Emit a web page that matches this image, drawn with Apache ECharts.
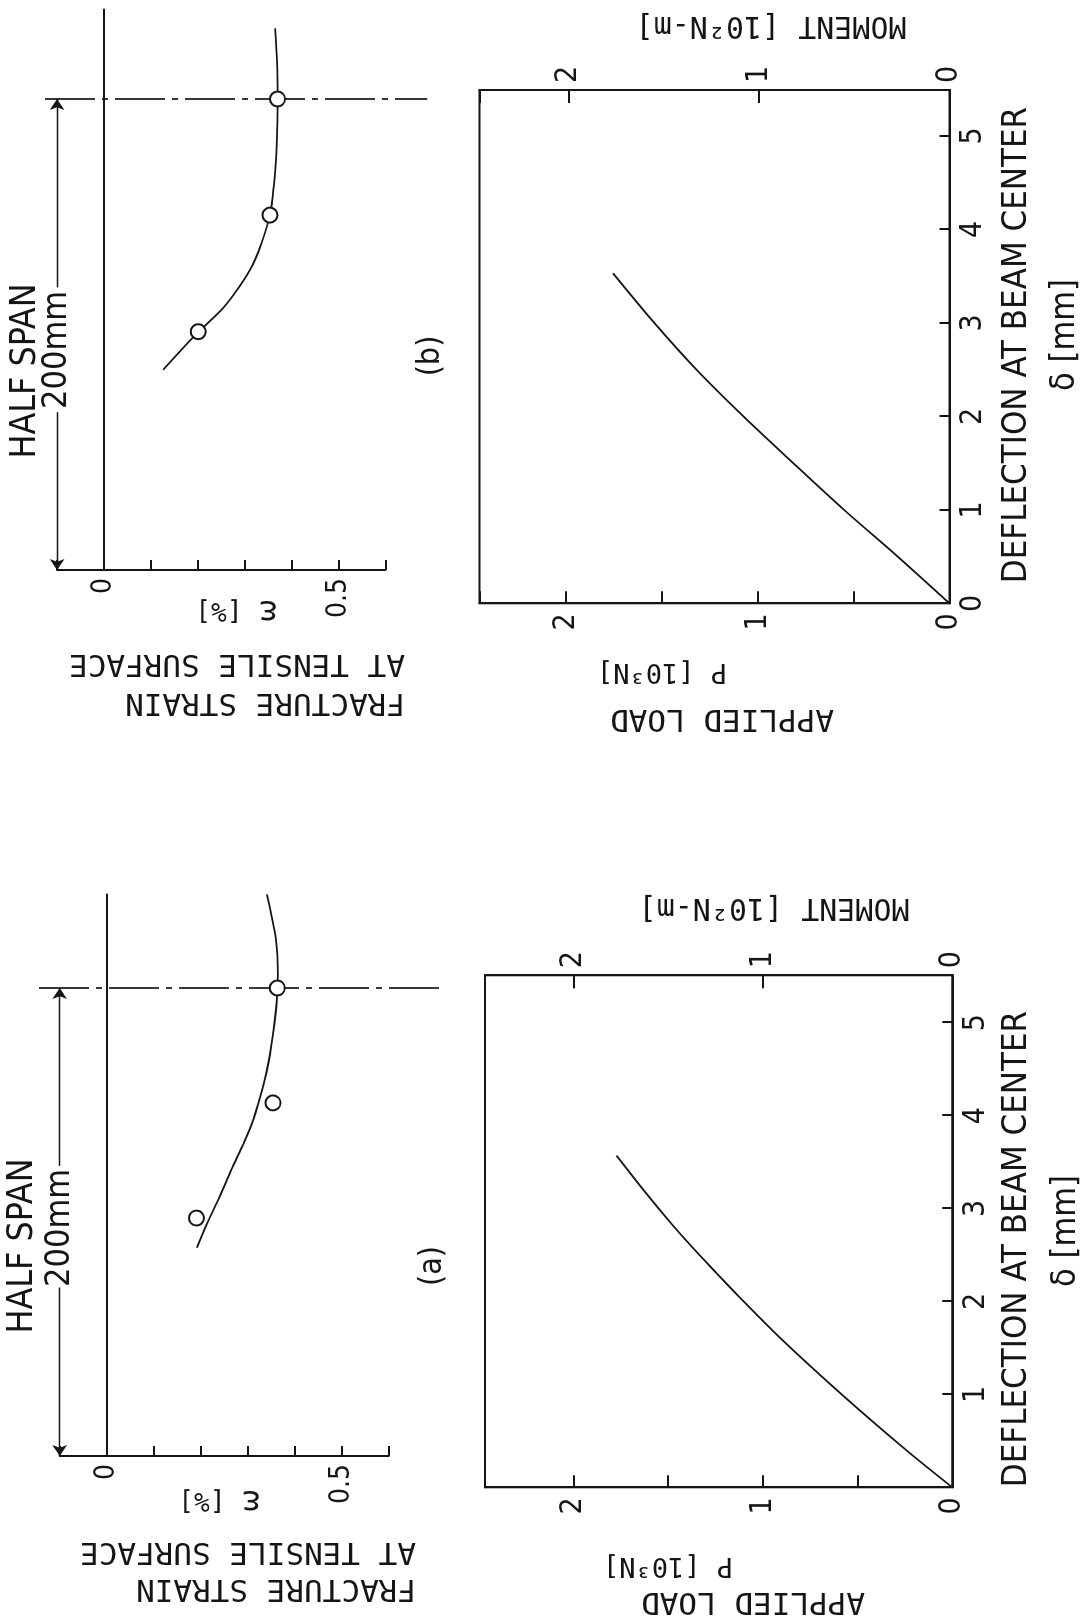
<!DOCTYPE html>
<html>
<head>
<meta charset="utf-8">
<script src="https://cdn.jsdelivr.net/npm/echarts@6/dist/echarts.min.js"></script>
<style>
  html, body { margin: 0; padding: 0; background: #fff; width: 1089px; height: 1623px; overflow: hidden; }
  #chart { position: absolute; left: 0; top: 0; width: 1623px; height: 1089px;
           transform-origin: 0 0; transform: translate(0px, 1623px) rotate(-90deg); }
</style>
</head>
<body>
<div id="chart"></div>
<script>
// ---------------- DATA ----------------
// Lower panels: deflection at beam center (mm) vs applied load P (10^3 N)
const deflA = [0, 0.4, 1.0, 1.6, 2.05, 2.3, 2.6, 2.85, 3.17, 3.57];
const loadA = [0, 0.243, 0.584, 0.905, 1.125, 1.242, 1.38, 1.488, 1.618, 1.772];
const deflB = [0, 0.5, 1.0, 1.5, 2.0, 2.5, 3.0, 3.53];
const loadB = [0, 0.27, 0.55, 0.815, 1.075, 1.32, 1.54, 1.755];

// Upper panels: position from support (mm) vs fracture strain at tensile surface (%)
const posCurveA = [89, 100, 112, 124, 133, 142, 153, 164, 175, 185, 195, 206, 221, 240];
const strainCurveA = [0.192, 0.215, 0.243, 0.269, 0.290, 0.309, 0.326, 0.340, 0.350, 0.357, 0.362, 0.364, 0.360, 0.341];
const posPtsA = [101.7, 150.9, 200];
const strainPtsA = [0.191, 0.354, 0.363];

const posCurveB = [85, 95, 101, 111, 121, 130, 140, 151, 163, 175, 186, 200, 215, 230];
const strainCurveB = [0.126, 0.172, 0.201, 0.253, 0.291, 0.318, 0.338, 0.354, 0.362, 0.367, 0.369, 0.370, 0.369, 0.365];
const posPtsB = [101.2, 150.7, 200];
const strainPtsB = [0.201, 0.354, 0.370];

// Tick labels
const deflTickLabelsA = ['1', '2', '3', '4', '5'];
const deflTickLabelsB = ['0', '1', '2', '3', '4', '5'];
const loadTickLabels = ['0', '1', '2'];
const momentTickLabels = ['0', '1', '2'];
const strainTickLabels = ['0', '0.5'];

// Half-span annotation (mm)
const halfSpan = 200;
const spanArrowGapA = [72, 124];
const spanArrowGapB = [67, 120];
const centerLineStrainA = [-0.144, 0.711];
const centerLineStrainB = [-0.126, 0.689];
const arrowStrain = -0.1;

// ---------------- STYLE ----------------
const ink = '#151515';
const cond = "'DejaVu Sans Condensed','Liberation Sans Narrow','Roboto Condensed','DejaVu Sans',sans-serif";
const mono = "'DejaVu Sans Mono','Liberation Mono',monospace";

function zip(a, b) { return a.map((v, i) => [v, b[i]]); }
function fmtFrom(list) {
  return function (v) {
    const s = String(Math.round(v * 1000) / 1000);
    return list.indexOf(s) >= 0 ? s : '';
  };
}
const axLine = { show: true, onZero: false, lineStyle: { color: ink, width: 2 } };
function tickStyle(len) { return { show: true, inside: true, length: len, lineStyle: { color: ink, width: 2 } }; }
function lab(list, size, margin) {
  return { show: true, formatter: fmtFrom(list), fontSize: size, fontFamily: cond, color: ink, margin: margin, showMaxLabel: true, showMinLabel: true };
}
const noSplit = { show: false };

// grids in the un-rotated (landscape) frame
const grids = [
  { left: 167, top: 59.7, width: 561.6, height: 329 },            // top a
  { left: 135.7, top: 485, width: 512, height: 467.3, show: true, borderColor: ink, borderWidth: 2, backgroundColor: 'rgba(0,0,0,0)' }, // bottom a
  { left: 1053, top: 57.1, width: 560.5, height: 328.3 },         // top b
  { left: 1019.7, top: 479.6, width: 513.3, height: 469.8, show: true, borderColor: ink, borderWidth: 2, backgroundColor: 'rgba(0,0,0,0)' } // bottom b
].map(g => Object.assign({ containLabel: false, outerBoundsMode: 'none' }, g));

const xAxes = [
  { gridIndex: 0, type: 'value', min: 0, max: 240, position: 'top',
    axisLine: { show: true, onZero: true, lineStyle: { color: ink, width: 2 } },
    axisTick: { show: false }, axisLabel: { show: false }, splitLine: noSplit },
  { gridIndex: 1, type: 'value', min: 0, max: 5.51, interval: 1, position: 'bottom',
    axisLine: axLine, axisTick: tickStyle(10), axisLabel: lab(deflTickLabelsA, 30, 9), splitLine: noSplit },
  { gridIndex: 2, type: 'value', min: 0, max: 238, position: 'top',
    axisLine: { show: true, onZero: true, lineStyle: { color: ink, width: 2 } },
    axisTick: { show: false }, axisLabel: { show: false }, splitLine: noSplit },
  { gridIndex: 3, type: 'value', min: 0, max: 5.49, interval: 1, position: 'bottom',
    axisLine: axLine, axisTick: tickStyle(10), axisLabel: lab(deflTickLabelsB, 30, 9), splitLine: noSplit }
];
const yAxes = [
  { gridIndex: 0, type: 'value', min: -0.1, max: 0.6, interval: 0.1, inverse: true, position: 'left',
    axisLine: axLine, axisTick: tickStyle(10), axisLabel: lab(strainTickLabels, 28, 8), splitLine: noSplit },
  { gridIndex: 1, type: 'value', min: 0, max: 2.466, interval: 0.5, position: 'left',
    axisLine: axLine, axisTick: tickStyle(12), axisLabel: lab(loadTickLabels, 30, 10), splitLine: noSplit },
  { gridIndex: 1, type: 'value', min: 0, max: 2.466, interval: 1, position: 'right',
    axisLine: axLine, axisTick: tickStyle(13), axisLabel: lab(momentTickLabels, 30, 7), splitLine: noSplit },
  { gridIndex: 2, type: 'value', min: -0.1, max: 0.6, interval: 0.1, inverse: true, position: 'left',
    axisLine: axLine, axisTick: tickStyle(10), axisLabel: lab(strainTickLabels, 28, 8), splitLine: noSplit },
  { gridIndex: 3, type: 'value', min: 0, max: 2.451, interval: 0.5, position: 'left',
    axisLine: axLine, axisTick: tickStyle(12), axisLabel: lab(loadTickLabels, 30, 10), splitLine: noSplit },
  { gridIndex: 3, type: 'value', min: 0, max: 2.466, interval: 1, position: 'right',
    axisLine: axLine, axisTick: tickStyle(13), axisLabel: lab(momentTickLabels, 30, 7), splitLine: noSplit }
];

function curve(x, y, xs, ys) {
  return { type: 'line', xAxisIndex: x, yAxisIndex: y, data: zip(xs, ys), smooth: 0.3,
           symbol: 'none', showSymbol: false, clip: false, lineStyle: { color: ink, width: 1.8 }, z: 3 };
}
function points(x, y, xs, ys) {
  return { type: 'scatter', xAxisIndex: x, yAxisIndex: y, data: zip(xs, ys), symbol: 'circle', symbolSize: 15,
           itemStyle: { color: '#fff', borderColor: ink, borderWidth: 2, opacity: 1 }, z: 6, clip: false };
}
function centerLine(x, y, range) {
  return { type: 'line', xAxisIndex: x, yAxisIndex: y, data: [[halfSpan, range[0]], [halfSpan, range[1]]],
           symbol: 'none', clip: false, lineStyle: { color: ink, width: 1.7, type: [50, 7, 6, 7] }, z: 2 };
}
function spanArrows(x, y, gap) {
  return { type: 'lines', coordinateSystem: 'cartesian2d', xAxisIndex: x, yAxisIndex: y,
           symbol: ['none', 'arrow'], symbolSize: 11, clip: false,
           lineStyle: { color: ink, width: 1.4, opacity: 1 }, itemStyle: { color: ink },
           data: [ { coords: [[gap[0], arrowStrain], [0, arrowStrain]] },
                   { coords: [[gap[1], arrowStrain], [halfSpan, arrowStrain]] } ], z: 2 };
}

function T(x, y, text, size, family, rot, align, rich) {
  const st = { text: text, fill: ink, font: size + 'px ' + family, align: align || 'center', verticalAlign: 'middle' };
  if (rich) st.rich = rich;
  return { type: 'text', x: x, y: y, rotation: rot || 0, z: 10, style: st };
}
const R = Math.PI / 2;
const epsRich = { e: { fontSize: 34, fontFamily: mono, fill: ink }, t: { fontSize: 26, fontFamily: mono, fill: ink } };
const texts = [
  // panel (a)
  T(374, 1017, 'DEFLECTION AT BEAM CENTER', 34.5, cond),
  T(392, 1066, 'δ [mm]', 34, cond),
  T(22, 753, 'APPLIED LOAD', 31, mono, R),
  T(58, 668, 'P [10³N]', 27, mono, R),
  T(716, 774, 'MOMENT [10²N-m]', 30, mono, R),
  T(357, 433, '(a)', 32, cond),
  T(377, 23, 'HALF SPAN', 35.5, cond),
  T(395, 60, '200mm', 34, cond),
  T(123, 220, '{e|ε}{t| [%]}', 26, mono, R, 'center', epsRich),
  T(35, 416, 'FRACTURE STRAIN', 31, mono, R, 'left'),
  T(72, 416, 'AT TENSILE SURFACE', 31, mono, R, 'left'),
  // panel (b)
  T(1278, 1017, 'DEFLECTION AT BEAM CENTER', 34.5, cond),
  T(1288, 1065, 'δ [mm]', 34, cond),
  T(905, 722, 'APPLIED LOAD', 31, mono, R),
  T(952, 662, 'P [10³N]', 27, mono, R),
  T(1598, 771, 'MOMENT [10²N-m]', 30, mono, R),
  T(1267, 431, '(b)', 32, cond),
  T(1252, 26, 'HALF SPAN', 35.5, cond),
  T(1273, 57, '200mm', 34, cond),
  T(1013, 237, '{e|ε}{t| [%]}', 26, mono, R, 'center', epsRich),
  T(921, 405, 'FRACTURE STRAIN', 31, mono, R, 'left'),
  T(960, 405, 'AT TENSILE SURFACE', 31, mono, R, 'left')
];

const chart = echarts.init(document.getElementById('chart'), null, { renderer: 'canvas', width: 1623, height: 1089 });
chart.setOption({
  backgroundColor: '#ffffff',
  animation: false,
  grid: grids,
  xAxis: xAxes,
  yAxis: yAxes,
  graphic: texts,
  series: [
    curve(0, 0, posCurveA, strainCurveA),
    points(0, 0, posPtsA, strainPtsA),
    centerLine(0, 0, centerLineStrainA),
    spanArrows(0, 0, spanArrowGapA),
    curve(1, 1, deflA, loadA),
    curve(2, 3, posCurveB, strainCurveB),
    points(2, 3, posPtsB, strainPtsB),
    centerLine(2, 3, centerLineStrainB),
    spanArrows(2, 3, spanArrowGapB),
    curve(3, 4, deflB, loadB)
  ]
});
</script>
</body>
</html>
